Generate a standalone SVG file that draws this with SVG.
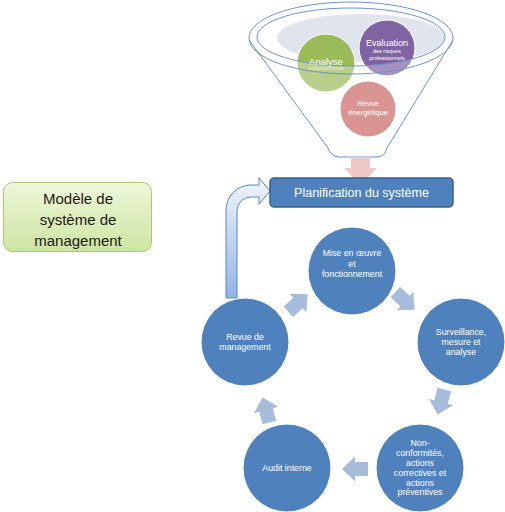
<svg xmlns="http://www.w3.org/2000/svg" width="505" height="512" viewBox="0 0 505 512">
<style>
.t{font-family:"Liberation Sans",Arial,sans-serif;fill:#fff;text-anchor:middle;dominant-baseline:central}
.c{font-size:8.8px}
.blue{fill:#4f81bd;stroke:#fff;stroke-width:1}
.chev{fill:#a7bbdb}
.fl{fill:none;stroke:#6f93c8;stroke-width:1}
</style>
<defs>
<linearGradient id="gGreen" x1="0" y1="0" x2="0" y2="1">
<stop offset="0" stop-color="#eef7d9"/><stop offset="1" stop-color="#cde5a2"/>
</linearGradient>
<linearGradient id="gArrow" x1="0" y1="0" x2="0" y2="1">
<stop offset="0" stop-color="#f2f6fc"/><stop offset="1" stop-color="#93b3e6"/>
</linearGradient>
<path id="chevron" d="M-13,-7 L0,-7 L0,-12.5 L13,0 L0,12.5 L0,7 L-13,7 Z"/>
</defs>
<rect width="505" height="512" fill="#fff"/>

<g id="funnel">
<ellipse cx="361" cy="38" rx="84" ry="24" fill="#e0e5ed"/>
<g id="analyse">
<circle cx="326" cy="63" r="29" fill="#9bbb59" stroke="#fff" stroke-width="1"/>
</g>
<g id="evaluation">
<circle cx="387" cy="48" r="28" fill="#8064a2" stroke="#fff" stroke-width="1"/>
</g>
<g id="revue-energetique">
<circle cx="368" cy="109" r="28" fill="#ca6865" stroke="#fff" stroke-width="1"/>
</g>
<path fill="#fff" fill-opacity="0.3" fill-rule="evenodd" d="M249,38 A102,36 0 0 1 453,38 L387,148 Q385,157 376,157 L340,157 Q331,157 328,148 Z M257,37 A94,29 0 1 0 445,37 A94,29 0 1 0 257,37 Z"/>
<ellipse class="fl" cx="351" cy="38" rx="102" ry="36"/>
<ellipse class="fl" cx="351" cy="37" rx="94" ry="29"/>
<path class="fl" d="M249,40 L328,148 Q331,157 340,157 L376,157 Q385,157 387,148 L453,40"/>
<text class="t" x="326" y="61" font-size="9.5">Analyse</text>
<text class="t" x="326" y="68" font-size="4.5" fill-opacity="0.7">environnementale</text>
<text class="t" x="387" y="43" font-size="9">Evaluation</text>
<text class="t" x="387" y="51" font-size="5.5">des risques</text>
<text class="t" x="387" y="58" font-size="5.5">professionnels</text>
<text class="t" x="368" y="103" font-size="7.5">Revue</text>
<text class="t" x="368" y="112" font-size="7.5">énergétique</text>
</g>

<g id="connectors">
<path d="M351,157 L370,157 L370,168 L377,168 L360.5,185 L344,168 L351,168 Z" fill="#efc9c8"/>
<path d="M226,298 L226,210 A25,25 0 0 1 251,185 L259,185 L259,178 L270,191 L259,204 L259,197 L251,197 A14,14 0 0 0 237,211 L237,298 Z" fill="url(#gArrow)" stroke="#5b86c4" stroke-width="1"/>
<use href="#chevron" class="chev" transform="translate(298,303) rotate(-42)"/>
<use href="#chevron" class="chev" transform="translate(405,301) rotate(42)"/>
<use href="#chevron" class="chev" transform="translate(441,402) rotate(105)"/>
<use href="#chevron" class="chev" transform="translate(355,469) rotate(180)"/>
<use href="#chevron" class="chev" transform="translate(266,410) rotate(-105)"/>
</g>

<g id="planification">
<rect x="270" y="178" width="183" height="29" rx="4" fill="#4f81bd" stroke="#385d8a" stroke-width="1.5"/>
<text class="t" x="361.5" y="193" font-size="12.5">Planification du système</text>
</g>

<g id="modele">
<rect x="3.5" y="182.5" width="148" height="69" rx="9" fill="url(#gGreen)" stroke="#a9c873" stroke-width="1"/>
<text class="t" x="78" y="198" font-size="15" style="fill:#1a1a1a">Modèle de</text>
<text class="t" x="78" y="219" font-size="15" style="fill:#1a1a1a">système de</text>
<text class="t" x="78" y="240" font-size="15" style="fill:#1a1a1a">management</text>
</g>

<g id="mise-en-oeuvre">
<circle class="blue" cx="352" cy="271" r="44"/>
<text class="t c" x="352" y="253">Mise en œuvre</text>
<text class="t c" x="352" y="264">et</text>
<text class="t c" x="352" y="274">fonctionnement</text>
</g>
<g id="surveillance">
<circle class="blue" cx="461" cy="342" r="44"/>
<text class="t c" x="461" y="332">Surveillance,</text>
<text class="t c" x="461" y="342">mesure et</text>
<text class="t c" x="461" y="352">analyse</text>
</g>
<g id="non-conformites">
<circle class="blue" cx="420" cy="468" r="44"/>
<text class="t c" x="420" y="443">Non-</text>
<text class="t c" x="420" y="453">conformités,</text>
<text class="t c" x="420" y="463">actions</text>
<text class="t c" x="420" y="473">correctives et</text>
<text class="t c" x="420" y="483">actions</text>
<text class="t c" x="420" y="492">préventives</text>
</g>
<g id="audit-interne">
<circle class="blue" cx="287" cy="468" r="44"/>
<text class="t c" x="287" y="468">Audit interne</text>
</g>
<g id="revue-management">
<circle class="blue" cx="245" cy="342" r="44"/>
<text class="t c" x="245" y="337">Revue de</text>
<text class="t c" x="245" y="347">management</text>
</g>
</svg>
